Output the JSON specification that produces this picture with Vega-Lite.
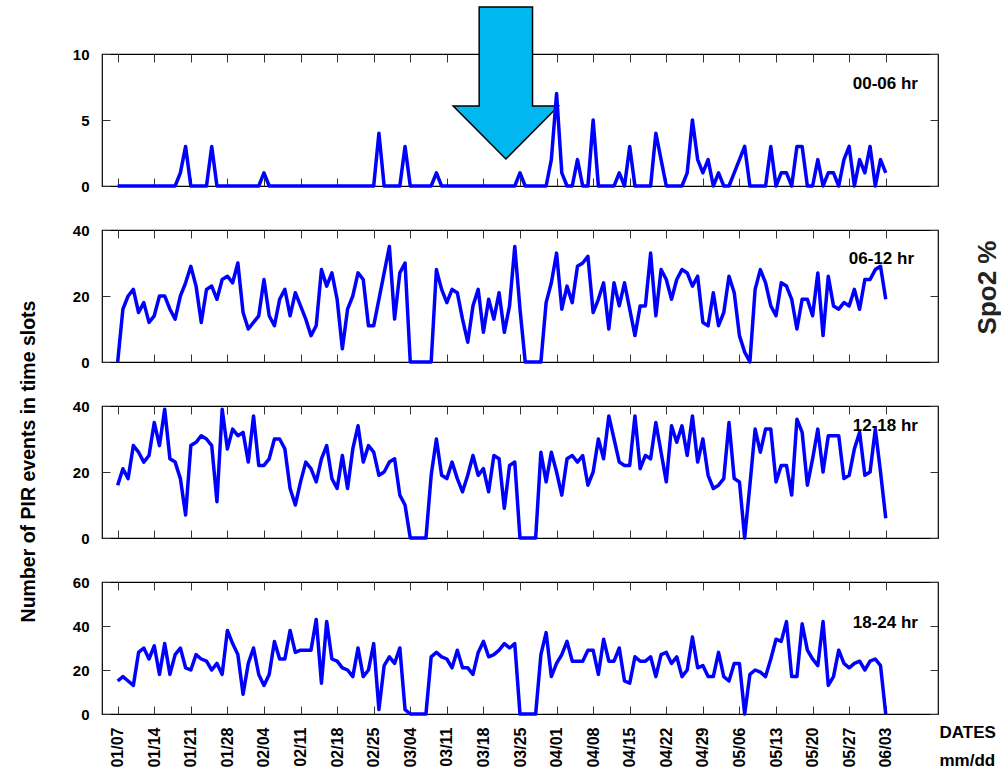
{
  "$schema": "https://vega.github.io/schema/vega-lite/v6.json",
  "background": "white",
  "padding": {"left": 17, "top": 3, "right": 0, "bottom": 0},
  "config": {
    "font": "Liberation Sans",
    "view": {"stroke": "#000", "strokeWidth": 1.2},
    "axis": {"grid": false, "domain": false, "tickColor": "#333", "tickWidth": 1, "tickSize": -8, "labelFont": "Liberation Sans", "labelFontWeight": "bold", "labelFontSize": 15, "labelColor": "#000", "labelPadding": 21, "titleFont": "Liberation Sans", "titleFontWeight": "bold", "titleColor": "#000", "labelFlush": false, "labelOverlap": false}
  },
  "data": {"values": [
    {"date":"2018-01-07","h00_06":0,"h06_12":0,"h12_18":16,"h18_24":15},
    {"date":"2018-01-08","h00_06":0,"h06_12":16,"h12_18":21,"h18_24":17},
    {"date":"2018-01-09","h00_06":0,"h06_12":20,"h12_18":18,"h18_24":15},
    {"date":"2018-01-10","h00_06":0,"h06_12":22,"h12_18":28,"h18_24":13},
    {"date":"2018-01-11","h00_06":0,"h06_12":15,"h12_18":26,"h18_24":28},
    {"date":"2018-01-12","h00_06":0,"h06_12":18,"h12_18":23,"h18_24":30},
    {"date":"2018-01-13","h00_06":0,"h06_12":12,"h12_18":25,"h18_24":25},
    {"date":"2018-01-14","h00_06":0,"h06_12":14,"h12_18":35,"h18_24":31},
    {"date":"2018-01-15","h00_06":0,"h06_12":20,"h12_18":28,"h18_24":18},
    {"date":"2018-01-16","h00_06":0,"h06_12":20,"h12_18":39,"h18_24":32},
    {"date":"2018-01-17","h00_06":0,"h06_12":16,"h12_18":24,"h18_24":18},
    {"date":"2018-01-18","h00_06":0,"h06_12":13,"h12_18":23,"h18_24":27},
    {"date":"2018-01-19","h00_06":1,"h06_12":20,"h12_18":18,"h18_24":30},
    {"date":"2018-01-20","h00_06":3,"h06_12":24,"h12_18":7,"h18_24":21},
    {"date":"2018-01-21","h00_06":0,"h06_12":29,"h12_18":28,"h18_24":20},
    {"date":"2018-01-22","h00_06":0,"h06_12":23,"h12_18":29,"h18_24":27},
    {"date":"2018-01-23","h00_06":0,"h06_12":12,"h12_18":31,"h18_24":25},
    {"date":"2018-01-24","h00_06":0,"h06_12":22,"h12_18":30,"h18_24":24},
    {"date":"2018-01-25","h00_06":3,"h06_12":23,"h12_18":28,"h18_24":20},
    {"date":"2018-01-26","h00_06":0,"h06_12":19,"h12_18":11,"h18_24":23},
    {"date":"2018-01-27","h00_06":0,"h06_12":25,"h12_18":39,"h18_24":18},
    {"date":"2018-01-28","h00_06":0,"h06_12":26,"h12_18":27,"h18_24":38},
    {"date":"2018-01-29","h00_06":0,"h06_12":24,"h12_18":33,"h18_24":32},
    {"date":"2018-01-30","h00_06":0,"h06_12":30,"h12_18":31,"h18_24":27},
    {"date":"2018-01-31","h00_06":0,"h06_12":15,"h12_18":32,"h18_24":9},
    {"date":"2018-02-01","h00_06":0,"h06_12":10,"h12_18":23,"h18_24":23},
    {"date":"2018-02-02","h00_06":0,"h06_12":12,"h12_18":37,"h18_24":30},
    {"date":"2018-02-03","h00_06":0,"h06_12":14,"h12_18":22,"h18_24":18},
    {"date":"2018-02-04","h00_06":1,"h06_12":25,"h12_18":22,"h18_24":13},
    {"date":"2018-02-05","h00_06":0,"h06_12":14,"h12_18":24,"h18_24":18},
    {"date":"2018-02-06","h00_06":0,"h06_12":11,"h12_18":30,"h18_24":33},
    {"date":"2018-02-07","h00_06":0,"h06_12":19,"h12_18":30,"h18_24":25},
    {"date":"2018-02-08","h00_06":0,"h06_12":22,"h12_18":27,"h18_24":25},
    {"date":"2018-02-09","h00_06":0,"h06_12":14,"h12_18":15,"h18_24":38},
    {"date":"2018-02-10","h00_06":0,"h06_12":21,"h12_18":10,"h18_24":28},
    {"date":"2018-02-11","h00_06":0,"h06_12":17,"h12_18":17,"h18_24":29},
    {"date":"2018-02-12","h00_06":0,"h06_12":13,"h12_18":23,"h18_24":29},
    {"date":"2018-02-13","h00_06":0,"h06_12":8,"h12_18":21,"h18_24":29},
    {"date":"2018-02-14","h00_06":0,"h06_12":11,"h12_18":17,"h18_24":43},
    {"date":"2018-02-15","h00_06":0,"h06_12":28,"h12_18":24,"h18_24":14},
    {"date":"2018-02-16","h00_06":0,"h06_12":23,"h12_18":28,"h18_24":42},
    {"date":"2018-02-17","h00_06":0,"h06_12":27,"h12_18":18,"h18_24":25},
    {"date":"2018-02-18","h00_06":0,"h06_12":19,"h12_18":15,"h18_24":24},
    {"date":"2018-02-19","h00_06":0,"h06_12":4,"h12_18":25,"h18_24":21},
    {"date":"2018-02-20","h00_06":0,"h06_12":16,"h12_18":15,"h18_24":20},
    {"date":"2018-02-21","h00_06":0,"h06_12":20,"h12_18":27,"h18_24":17},
    {"date":"2018-02-22","h00_06":0,"h06_12":27,"h12_18":34,"h18_24":30},
    {"date":"2018-02-23","h00_06":0,"h06_12":25,"h12_18":23,"h18_24":17},
    {"date":"2018-02-24","h00_06":0,"h06_12":11,"h12_18":28,"h18_24":20},
    {"date":"2018-02-25","h00_06":0,"h06_12":11,"h12_18":26,"h18_24":32},
    {"date":"2018-02-26","h00_06":4,"h06_12":19,"h12_18":19,"h18_24":2},
    {"date":"2018-02-27","h00_06":0,"h06_12":27,"h12_18":20,"h18_24":22},
    {"date":"2018-02-28","h00_06":0,"h06_12":35,"h12_18":23,"h18_24":26},
    {"date":"2018-03-01","h00_06":0,"h06_12":13,"h12_18":24,"h18_24":23},
    {"date":"2018-03-02","h00_06":0,"h06_12":27,"h12_18":13,"h18_24":30},
    {"date":"2018-03-03","h00_06":3,"h06_12":30,"h12_18":10,"h18_24":2},
    {"date":"2018-03-04","h00_06":0,"h06_12":0,"h12_18":0,"h18_24":0},
    {"date":"2018-03-05","h00_06":0,"h06_12":0,"h12_18":0,"h18_24":0},
    {"date":"2018-03-06","h00_06":0,"h06_12":0,"h12_18":0,"h18_24":0},
    {"date":"2018-03-07","h00_06":0,"h06_12":0,"h12_18":0,"h18_24":0},
    {"date":"2018-03-08","h00_06":0,"h06_12":0,"h12_18":19,"h18_24":26},
    {"date":"2018-03-09","h00_06":1,"h06_12":28,"h12_18":30,"h18_24":28},
    {"date":"2018-03-10","h00_06":0,"h06_12":22,"h12_18":19,"h18_24":26},
    {"date":"2018-03-11","h00_06":0,"h06_12":18,"h12_18":18,"h18_24":25},
    {"date":"2018-03-12","h00_06":0,"h06_12":22,"h12_18":23,"h18_24":21},
    {"date":"2018-03-13","h00_06":0,"h06_12":21,"h12_18":18,"h18_24":29},
    {"date":"2018-03-14","h00_06":0,"h06_12":13,"h12_18":14,"h18_24":21},
    {"date":"2018-03-15","h00_06":0,"h06_12":6,"h12_18":19,"h18_24":21},
    {"date":"2018-03-16","h00_06":0,"h06_12":17,"h12_18":25,"h18_24":18},
    {"date":"2018-03-17","h00_06":0,"h06_12":22,"h12_18":19,"h18_24":28},
    {"date":"2018-03-18","h00_06":0,"h06_12":9,"h12_18":21,"h18_24":33},
    {"date":"2018-03-19","h00_06":0,"h06_12":19,"h12_18":14,"h18_24":26},
    {"date":"2018-03-20","h00_06":0,"h06_12":13,"h12_18":25,"h18_24":27},
    {"date":"2018-03-21","h00_06":0,"h06_12":21,"h12_18":24,"h18_24":29},
    {"date":"2018-03-22","h00_06":0,"h06_12":9,"h12_18":9,"h18_24":32},
    {"date":"2018-03-23","h00_06":0,"h06_12":17,"h12_18":22,"h18_24":30},
    {"date":"2018-03-24","h00_06":0,"h06_12":35,"h12_18":23,"h18_24":32},
    {"date":"2018-03-25","h00_06":1,"h06_12":16,"h12_18":0,"h18_24":0},
    {"date":"2018-03-26","h00_06":0,"h06_12":0,"h12_18":0,"h18_24":0},
    {"date":"2018-03-27","h00_06":0,"h06_12":0,"h12_18":0,"h18_24":0},
    {"date":"2018-03-28","h00_06":0,"h06_12":0,"h12_18":0,"h18_24":0},
    {"date":"2018-03-29","h00_06":0,"h06_12":0,"h12_18":26,"h18_24":27},
    {"date":"2018-03-30","h00_06":0,"h06_12":18,"h12_18":17,"h18_24":37},
    {"date":"2018-03-31","h00_06":2,"h06_12":24,"h12_18":26,"h18_24":17},
    {"date":"2018-04-01","h00_06":7,"h06_12":33,"h12_18":20,"h18_24":23},
    {"date":"2018-04-02","h00_06":1,"h06_12":16,"h12_18":13,"h18_24":27},
    {"date":"2018-04-03","h00_06":0,"h06_12":23,"h12_18":24,"h18_24":33},
    {"date":"2018-04-04","h00_06":0,"h06_12":18,"h12_18":25,"h18_24":24},
    {"date":"2018-04-05","h00_06":2,"h06_12":29,"h12_18":23,"h18_24":24},
    {"date":"2018-04-06","h00_06":0,"h06_12":30,"h12_18":25,"h18_24":24},
    {"date":"2018-04-07","h00_06":0,"h06_12":32,"h12_18":16,"h18_24":29},
    {"date":"2018-04-08","h00_06":5,"h06_12":15,"h12_18":20,"h18_24":29},
    {"date":"2018-04-09","h00_06":0,"h06_12":19,"h12_18":30,"h18_24":18},
    {"date":"2018-04-10","h00_06":0,"h06_12":24,"h12_18":24,"h18_24":34},
    {"date":"2018-04-11","h00_06":0,"h06_12":10,"h12_18":37,"h18_24":24},
    {"date":"2018-04-12","h00_06":0,"h06_12":24,"h12_18":30,"h18_24":24},
    {"date":"2018-04-13","h00_06":1,"h06_12":17,"h12_18":23,"h18_24":30},
    {"date":"2018-04-14","h00_06":0,"h06_12":24,"h12_18":22,"h18_24":15},
    {"date":"2018-04-15","h00_06":3,"h06_12":16,"h12_18":22,"h18_24":14},
    {"date":"2018-04-16","h00_06":0,"h06_12":8,"h12_18":37,"h18_24":26},
    {"date":"2018-04-17","h00_06":0,"h06_12":17,"h12_18":21,"h18_24":24},
    {"date":"2018-04-18","h00_06":0,"h06_12":17,"h12_18":25,"h18_24":24},
    {"date":"2018-04-19","h00_06":0,"h06_12":33,"h12_18":24,"h18_24":26},
    {"date":"2018-04-20","h00_06":4,"h06_12":14,"h12_18":35,"h18_24":17},
    {"date":"2018-04-21","h00_06":2,"h06_12":28,"h12_18":26,"h18_24":27},
    {"date":"2018-04-22","h00_06":0,"h06_12":25,"h12_18":17,"h18_24":28},
    {"date":"2018-04-23","h00_06":0,"h06_12":19,"h12_18":34,"h18_24":23},
    {"date":"2018-04-24","h00_06":0,"h06_12":25,"h12_18":29,"h18_24":26},
    {"date":"2018-04-25","h00_06":0,"h06_12":28,"h12_18":34,"h18_24":17},
    {"date":"2018-04-26","h00_06":1,"h06_12":27,"h12_18":25,"h18_24":20},
    {"date":"2018-04-27","h00_06":5,"h06_12":23,"h12_18":37,"h18_24":35},
    {"date":"2018-04-28","h00_06":2,"h06_12":26,"h12_18":23,"h18_24":21},
    {"date":"2018-04-29","h00_06":1,"h06_12":12,"h12_18":30,"h18_24":22},
    {"date":"2018-04-30","h00_06":2,"h06_12":11,"h12_18":19,"h18_24":17},
    {"date":"2018-05-01","h00_06":0,"h06_12":21,"h12_18":15,"h18_24":17},
    {"date":"2018-05-02","h00_06":1,"h06_12":11,"h12_18":16,"h18_24":28},
    {"date":"2018-05-03","h00_06":0,"h06_12":15,"h12_18":18,"h18_24":17},
    {"date":"2018-05-04","h00_06":0,"h06_12":26,"h12_18":35,"h18_24":15},
    {"date":"2018-05-05","h00_06":1,"h06_12":21,"h12_18":18,"h18_24":23},
    {"date":"2018-05-06","h00_06":2,"h06_12":8,"h12_18":17,"h18_24":23},
    {"date":"2018-05-07","h00_06":3,"h06_12":3,"h12_18":0,"h18_24":0},
    {"date":"2018-05-08","h00_06":0,"h06_12":0,"h12_18":16,"h18_24":18},
    {"date":"2018-05-09","h00_06":0,"h06_12":22,"h12_18":33,"h18_24":20},
    {"date":"2018-05-10","h00_06":0,"h06_12":28,"h12_18":26,"h18_24":19},
    {"date":"2018-05-11","h00_06":0,"h06_12":24,"h12_18":33,"h18_24":17},
    {"date":"2018-05-12","h00_06":3,"h06_12":17,"h12_18":33,"h18_24":25},
    {"date":"2018-05-13","h00_06":0,"h06_12":14,"h12_18":17,"h18_24":34},
    {"date":"2018-05-14","h00_06":1,"h06_12":24,"h12_18":22,"h18_24":33},
    {"date":"2018-05-15","h00_06":1,"h06_12":23,"h12_18":22,"h18_24":42},
    {"date":"2018-05-16","h00_06":0,"h06_12":19,"h12_18":13,"h18_24":17},
    {"date":"2018-05-17","h00_06":3,"h06_12":10,"h12_18":36,"h18_24":17},
    {"date":"2018-05-18","h00_06":3,"h06_12":19,"h12_18":32,"h18_24":41},
    {"date":"2018-05-19","h00_06":0,"h06_12":19,"h12_18":16,"h18_24":29},
    {"date":"2018-05-20","h00_06":0,"h06_12":14,"h12_18":24,"h18_24":25},
    {"date":"2018-05-21","h00_06":2,"h06_12":27,"h12_18":33,"h18_24":22},
    {"date":"2018-05-22","h00_06":0,"h06_12":8,"h12_18":20,"h18_24":42},
    {"date":"2018-05-23","h00_06":1,"h06_12":26,"h12_18":31,"h18_24":13},
    {"date":"2018-05-24","h00_06":1,"h06_12":17,"h12_18":31,"h18_24":17},
    {"date":"2018-05-25","h00_06":0,"h06_12":16,"h12_18":31,"h18_24":29},
    {"date":"2018-05-26","h00_06":2,"h06_12":18,"h12_18":18,"h18_24":23},
    {"date":"2018-05-27","h00_06":3,"h06_12":17,"h12_18":19,"h18_24":21},
    {"date":"2018-05-28","h00_06":0,"h06_12":22,"h12_18":27,"h18_24":23},
    {"date":"2018-05-29","h00_06":2,"h06_12":16,"h12_18":32,"h18_24":24},
    {"date":"2018-05-30","h00_06":1,"h06_12":25,"h12_18":19,"h18_24":20},
    {"date":"2018-05-31","h00_06":3,"h06_12":25,"h12_18":20,"h18_24":24},
    {"date":"2018-06-01","h00_06":0,"h06_12":28,"h12_18":33,"h18_24":25},
    {"date":"2018-06-02","h00_06":2,"h06_12":29,"h12_18":20,"h18_24":22},
    {"date":"2018-06-03","h00_06":1,"h06_12":19,"h12_18":6,"h18_24":0}
  ]},
  "spacing": 44,
  "bounds": "flush",
  "vconcat": [
    {
      "width": 836, "height": 132,
      "layer": [
        {
          "data": {"values": [{}]},
          "mark": {"type": "point", "shape": "M-0.351,-1L0.351,-1L0.351,0.303L0.693,0.303L0,1L-0.693,0.303L-0.351,0.303Z", "size": 23104, "filled": true, "fill": "#00B7EF", "stroke": "#000", "strokeWidth": 1.5, "opacity": 1},
          "encoding": {
            "x": {"datum": {"year": 2018, "month": 3, "date": 22, "hours": 7, "utc": true}, "type": "temporal", "axis": null},
            "y": {"datum": 7.8, "type": "quantitative", "axis": null}
          }
        },
        {
          "mark": {"type": "line", "color": "#0000FF", "strokeWidth": 3.5, "strokeJoin": "round"},
          "encoding": {
            "x": {"field": "date", "type": "temporal", "scale": {"type": "utc", "domain": [1515024000000, 1528848000000]}, "axis": {"orient": "bottom", "labels": false, "title": null, "values": [1515283200000,1515888000000,1516492800000,1517097600000,1517702400000,1518307200000,1518912000000,1519516800000,1520121600000,1520726400000,1521331200000,1521936000000,1522540800000,1523145600000,1523750400000,1524355200000,1524960000000,1525564800000,1526169600000,1526774400000,1527379200000,1527984000000]}},
            "y": {"field": "h00_06", "type": "quantitative", "scale": {"domain": [0, 10], "nice": false}, "axis": {"orient": "left", "title": null, "values": [0, 5, 10]}}
          }
        },
        {
          "data": {"values": [{"label": "00-06 hr"}]},
          "mark": {"type": "text", "align": "right", "baseline": "middle", "fontSize": 17, "fontWeight": "bold", "color": "#000"},
          "encoding": {
            "x": {"datum": {"year": 2018, "month": 6, "date": 9, "hours": 4, "utc": true}, "type": "temporal", "axis": {"orient": "top", "labels": false, "title": null, "values": [1515283200000,1515888000000,1516492800000,1517097600000,1517702400000,1518307200000,1518912000000,1519516800000,1520121600000,1520726400000,1521331200000,1521936000000,1522540800000,1523145600000,1523750400000,1524355200000,1524960000000,1525564800000,1526169600000,1526774400000,1527379200000,1527984000000]}},
            "y": {"datum": 7.7, "type": "quantitative", "axis": {"orient": "right", "labels": false, "title": null, "values": [0, 5, 10]}},
            "text": {"field": "label"}
          }
        }
      ],
      "resolve": {"axis": {"x": "independent", "y": "independent"}}
    },
    {
      "width": 836, "height": 132,
      "layer": [
        {
          "mark": {"type": "line", "color": "#0000FF", "strokeWidth": 3.5, "strokeJoin": "round"},
          "encoding": {
            "x": {"field": "date", "type": "temporal", "scale": {"type": "utc", "domain": [1515024000000, 1528848000000]}, "axis": {"orient": "bottom", "labels": false, "title": null, "values": [1515283200000,1515888000000,1516492800000,1517097600000,1517702400000,1518307200000,1518912000000,1519516800000,1520121600000,1520726400000,1521331200000,1521936000000,1522540800000,1523145600000,1523750400000,1524355200000,1524960000000,1525564800000,1526169600000,1526774400000,1527379200000,1527984000000]}},
            "y": {"field": "h06_12", "type": "quantitative", "scale": {"domain": [0, 40], "nice": false}, "axis": {"orient": "left", "title": null, "values": [0, 20, 40]}}
          }
        },
        {
          "data": {"values": [{"label": "06-12 hr"}]},
          "mark": {"type": "text", "align": "right", "baseline": "middle", "fontSize": 17, "fontWeight": "bold", "color": "#000"},
          "encoding": {
            "x": {"datum": {"year": 2018, "month": 6, "date": 8, "hours": 10, "utc": true}, "type": "temporal", "axis": {"orient": "top", "labels": false, "title": null, "values": [1515283200000,1515888000000,1516492800000,1517097600000,1517702400000,1518307200000,1518912000000,1519516800000,1520121600000,1520726400000,1521331200000,1521936000000,1522540800000,1523145600000,1523750400000,1524355200000,1524960000000,1525564800000,1526169600000,1526774400000,1527379200000,1527984000000]}},
            "y": {"datum": 31.2, "type": "quantitative", "axis": {"orient": "right", "labels": false, "values": [0, 20, 40], "title": "Spo2 %", "titleAngle": 270, "titleX": 62, "titleY": 57, "titleAlign": "center", "titleBaseline": "bottom", "titleFontSize": 26, "titleColor": "#222"}},
            "text": {"field": "label"}
          }
        }
      ],
      "resolve": {"axis": {"x": "independent", "y": "independent"}}
    },
    {
      "width": 836, "height": 132,
      "layer": [
        {
          "mark": {"type": "line", "color": "#0000FF", "strokeWidth": 3.5, "strokeJoin": "round"},
          "encoding": {
            "x": {"field": "date", "type": "temporal", "scale": {"type": "utc", "domain": [1515024000000, 1528848000000]}, "axis": {"orient": "bottom", "labels": false, "title": null, "values": [1515283200000,1515888000000,1516492800000,1517097600000,1517702400000,1518307200000,1518912000000,1519516800000,1520121600000,1520726400000,1521331200000,1521936000000,1522540800000,1523145600000,1523750400000,1524355200000,1524960000000,1525564800000,1526169600000,1526774400000,1527379200000,1527984000000]}},
            "y": {"field": "h12_18", "type": "quantitative", "scale": {"domain": [0, 40], "nice": false}, "axis": {"orient": "left", "values": [0, 20, 40], "title": "Number of PIR events in time slots", "titleAngle": 270, "titleX": -68, "titleY": 55, "titleAlign": "center", "titleBaseline": "alphabetic", "titleFontSize": 19.5}}
          }
        },
        {
          "data": {"values": [{"label": "12-18 hr"}]},
          "mark": {"type": "text", "align": "right", "baseline": "middle", "fontSize": 17, "fontWeight": "bold", "color": "#000"},
          "encoding": {
            "x": {"datum": {"year": 2018, "month": 6, "date": 9, "hours": 4, "utc": true}, "type": "temporal", "axis": {"orient": "top", "labels": false, "title": null, "values": [1515283200000,1515888000000,1516492800000,1517097600000,1517702400000,1518307200000,1518912000000,1519516800000,1520121600000,1520726400000,1521331200000,1521936000000,1522540800000,1523145600000,1523750400000,1524355200000,1524960000000,1525564800000,1526169600000,1526774400000,1527379200000,1527984000000]}},
            "y": {"datum": 34, "type": "quantitative", "axis": {"orient": "right", "labels": false, "title": null, "values": [0, 20, 40]}},
            "text": {"field": "label"}
          }
        }
      ],
      "resolve": {"axis": {"x": "independent", "y": "independent"}}
    },
    {
      "width": 836, "height": 132,
      "layer": [
        {
          "mark": {"type": "line", "color": "#0000FF", "strokeWidth": 3.5, "strokeJoin": "round"},
          "encoding": {
            "x": {"field": "date", "type": "temporal", "scale": {"type": "utc", "domain": [1515024000000, 1528848000000]}, "axis": {"orient": "bottom", "format": "%m/%d", "labelAngle": 270, "labelFontSize": 16, "title": ["DATES", "mm/dd"], "titleX": 837, "titleY": 10, "titleAlign": "left", "titleBaseline": "top", "titleAngle": 0, "titleFontSize": 17, "titleLineHeight": 28, "values": [1515283200000,1515888000000,1516492800000,1517097600000,1517702400000,1518307200000,1518912000000,1519516800000,1520121600000,1520726400000,1521331200000,1521936000000,1522540800000,1523145600000,1523750400000,1524355200000,1524960000000,1525564800000,1526169600000,1526774400000,1527379200000,1527984000000]}},
            "y": {"field": "h18_24", "type": "quantitative", "scale": {"domain": [0, 60], "nice": false}, "axis": {"orient": "left", "title": null, "values": [0, 20, 40, 60]}}
          }
        },
        {
          "data": {"values": [{"label": "18-24 hr"}]},
          "mark": {"type": "text", "align": "right", "baseline": "middle", "fontSize": 17, "fontWeight": "bold", "color": "#000"},
          "encoding": {
            "x": {"datum": {"year": 2018, "month": 6, "date": 9, "hours": 4, "utc": true}, "type": "temporal", "axis": {"orient": "top", "labels": false, "title": null, "values": [1515283200000,1515888000000,1516492800000,1517097600000,1517702400000,1518307200000,1518912000000,1519516800000,1520121600000,1520726400000,1521331200000,1521936000000,1522540800000,1523145600000,1523750400000,1524355200000,1524960000000,1525564800000,1526169600000,1526774400000,1527379200000,1527984000000]}},
            "y": {"datum": 41.5, "type": "quantitative", "axis": {"orient": "right", "labels": false, "title": null, "values": [0, 20, 40, 60]}},
            "text": {"field": "label"}
          }
        }
      ],
      "resolve": {"axis": {"x": "independent", "y": "independent"}}
    }
  ]
}
